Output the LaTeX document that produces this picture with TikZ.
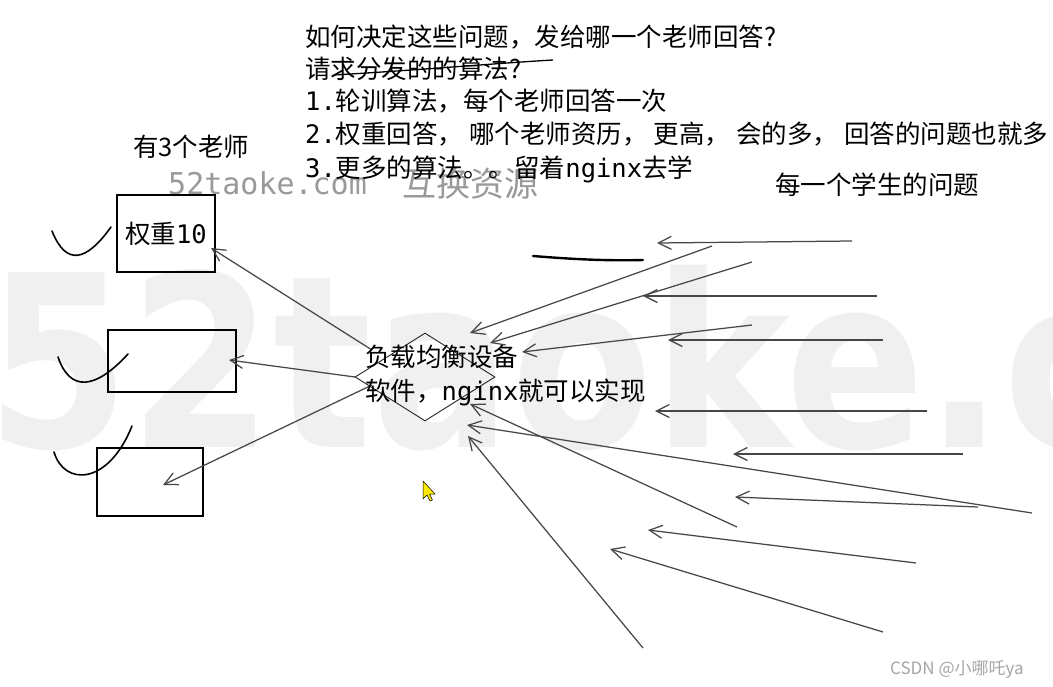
\documentclass[tikz,border=0pt]{standalone}
\usepackage{fontspec}
\setmainfont{Noto Sans CJK SC}
\newfontfamily\mono{DejaVu Sans Mono}
\newfontfamily\wmfont{DejaVu Sans}
\usetikzlibrary{arrows.meta,shapes.geometric}
\begin{document}
\begin{tikzpicture}[x=1pt,y=-1pt,
  txt/.style={anchor=base west, inner sep=0pt, font=\fontsize{25.5}{30}\selectfont},
  box/.style={draw=black, line width=1.1pt, inner sep=0pt},
  arr/.style={draw=black!72, line width=1.25pt, -{Straight Barb[length=13pt,width=13pt]}},
  tick/.style={draw=black, line width=1.6pt, line cap=round},
  wm/.style={anchor=base west, inner sep=0pt, text=black!40}]
\useasboundingbox[fill=white] (0,0) rectangle (1053,686);
% big watermark
\node[anchor=base west, inner sep=0pt, text=black!6, font=\wmfont\bfseries\fontsize{240}{240}\selectfont] (bigwm) at (-14,447) {\scalebox{0.86}[1]{52taoke.c}};
% small watermark
\node[wm, font=\mono\fontsize{30}{32}\selectfont] (wm1) at (168,194) {52taoke.com};
\node[wm, font=\fontsize{34}{36}\selectfont] (wm2) at (402,196) {互换资源};
% top texts
\node[txt] (q1) at (305,46.5) {如何决定这些问题，发给哪一个老师回答?};
\node[txt] (q2) at (305,78.5) {请求分发的的算法?};
\node[txt] (q3) at (305,110.5) {{\mono 1.}轮训算法，每个老师回答一次};
\node[txt] (q4) at (305,143.5) {{\mono 2.}权重回答，\hspace{6pt}哪个老师资历，\hspace{6pt}更高，\hspace{6pt}会的多，\hspace{6pt}回答的问题也就多};
\node[txt] (q5) at (305,177.5) {{\mono 3.}更多的算法。。留着{\mono nginx}去学};
\node[txt] (teach) at (133,156.5) {有3个老师};
\node[txt] (stud) at (775,194.5) {每一个学生的问题};
% strike
\coordinate (s1) at (334,75);
\coordinate (s2) at (553,60);
\draw[draw=black, line width=1.3pt] (s1) .. controls (420,70) and (500,63) .. (s2);
% boxes
\node[box, minimum width=98pt, minimum height=77pt, font=\fontsize{25.5}{30}\selectfont] (t1) at (166,233.5) {权重{\mono 10}};
\node[box, minimum width=128pt, minimum height=62pt] (t2) at (172,361) {};
\node[box, minimum width=106pt, minimum height=68pt] (t3) at (150,482) {};
% ticks
\coordinate (k1a) at (52,231); \coordinate (k1b) at (111,227);
\coordinate (k2a) at (58,357); \coordinate (k2b) at (128,354);
\coordinate (k3a) at (54,452); \coordinate (k3b) at (132,426);
\draw[tick] (k1a) .. controls (66,266) and (86,262) .. (k1b);
\draw[tick] (k2a) .. controls (70,392) and (95,390) .. (k2b);
\draw[tick] (k3a) .. controls (64,486) and (108,486) .. (k3b);
% diamond
\node[diamond, draw=black!85, line width=0.9pt, minimum width=140pt, minimum height=88pt, inner sep=0pt] (lb) at (425,377) {};
% arrows diamond -> boxes
\coordinate (d1) at (372,350); \coordinate (e1) at (211,248);
\coordinate (d2) at (355,377); \coordinate (e2) at (229,360);
\coordinate (d3) at (372,385); \coordinate (e3) at (163,485);
\draw[arr] (d1) -- (e1);
\draw[arr] (d2) -- (e2);
\draw[arr] (d3) -- (e3);
% labels of device
\node[txt] (lbl1) at (365,366.5) {负载均衡设备};
\node[txt] (lbl2) at (365,400.5) {软件，{\mono nginx}就可以实现};
% student arrows
\coordinate (a1s) at (852,241);  \coordinate (a1t) at (657,243);
\coordinate (a2s) at (712,246);  \coordinate (a2t) at (470,333);
\coordinate (a3s) at (752,262);  \coordinate (a3t) at (490,343);
\coordinate (a4s) at (877,296);  \coordinate (a4t) at (643,296);
\coordinate (a5s) at (752,325);  \coordinate (a5t) at (522,352);
\coordinate (a6s) at (883,340);  \coordinate (a6t) at (668,340);
\coordinate (a7s) at (927,411);  \coordinate (a7t) at (655,411);
\coordinate (a8s) at (963,454);  \coordinate (a8t) at (733,454);
\coordinate (a9s) at (1032,513); \coordinate (a9t) at (467,425);
\coordinate (a10s) at (737,527); \coordinate (a10t) at (470,404);
\coordinate (a11s) at (978,507); \coordinate (a11t) at (735,497);
\coordinate (a12s) at (916,563); \coordinate (a12t) at (648,530);
\coordinate (a13s) at (883,632); \coordinate (a13t) at (610,549);
\coordinate (a14s) at (643,648); \coordinate (a14t) at (468,436);
\foreach \i in {1,...,14} {\draw[arr] (a\i s) -- (a\i t);}
% thick stroke
\coordinate (m1) at (533,256); \coordinate (m2) at (643,260);
\draw[draw=black, line width=2.4pt, line cap=round] (m1) .. controls (570,259) and (605,261) .. (m2);
% cursor
\coordinate (cur) at (423,481);
\draw[fill=yellow!90!orange, draw=black, line width=0.5pt, line join=round] (cur) -- ++(0,18) -- ++(4,-4) -- ++(3,6) -- ++(2.5,-1) -- ++(-3,-6) -- ++(5.5,0) -- cycle;
% CSDN
\node[anchor=base west, inner sep=0pt, text=black!35, font=\fontsize{17}{19}\selectfont] (csdn) at (890,674) {CSDN @小哪吒ya};
\end{tikzpicture}
\end{document}
